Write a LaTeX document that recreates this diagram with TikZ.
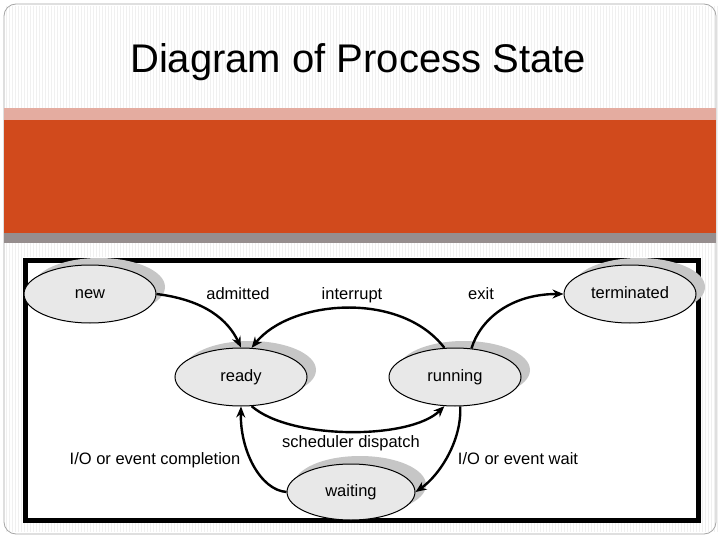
\documentclass[tikz,border=0pt]{standalone}
\usepackage{fontspec}
\setmainfont{Liberation Sans}
\usetikzlibrary{arrows.meta,shapes.geometric}
\definecolor{orng}{RGB}{209,74,28}
\definecolor{pnk}{RGB}{228,172,160}
\definecolor{gstrip}{RGB}{150,142,142}
\definecolor{nodefill}{RGB}{232,232,232}
\tikzset{
  st/.style={ellipse, draw=black, line width=1pt, fill=nodefill, minimum width=132pt, minimum height=58pt, font=\fontsize{16.5}{19}\selectfont, inner sep=0pt, text height=12pt, text depth=3pt},
  shad/.style={ellipse, fill=gray!45, minimum width=132pt, minimum height=58pt},
  arr/.style={-{Stealth[length=11pt,width=9pt]}, line width=2.4pt},
  lbl/.style={font=\fontsize{16.5}{19}\selectfont, text height=12pt, text depth=3pt}
}
\begin{document}
\begin{tikzpicture}[x=1pt,y=-1pt]
\useasboundingbox (0,0) rectangle (720,540);
\fill[white] (0,0) rectangle (720,540);
\foreach \i in {0,...,237} {\draw[gray!12,line width=0.6pt] (6+3*\i,6) -- (6+3*\i,532);}
\draw[gray!70,line width=0.8pt,rounded corners=12pt] (4,4) rectangle (716,534);
\fill[pnk] (4,108) rectangle (716,120);
\fill[orng] (4,120) rectangle (716,233);
\fill[gstrip] (4,233) rectangle (716,243);
\node[font=\fontsize{40}{46}\selectfont] (title) at (358,62) {Diagram of Process State};
\fill[white] (22,257) rectangle (700,522);
\draw[black,line width=5pt] (25,260) rectangle (698,520);
% shadows
\foreach \p in {(99,287),(250,370),(464,370),(639,287),(360,485)} {\node[shad] at \p {};}
\node[st] (new) at (90,294) {new};
\node[st] (ready) at (241,377) {ready};
\node[st] (running) at (455,377) {running};
\node[st] (term) at (630,294) {terminated};
\node[st, minimum width=128pt, minimum height=56pt] (wait) at (351,492) {waiting};
\draw[arr] (new.east) .. controls (205,300) and (228,320) .. (ready.north);
\draw[arr] (running.110) .. controls (400,290) and (290,300) .. (ready.70);
\draw[arr] (running.60) .. controls (480,320) and (510,294) .. (term.west);
\draw[arr] (ready.-70) .. controls (290,440) and (410,440) .. (running.-110);
\draw[arr] (running.-80) .. controls (462,440) and (440,475) .. (wait.east);
\draw[arr] (wait.west) .. controls (260,490) and (240,450) .. (ready.south);
\node[lbl] (l1) at (238,295) {admitted};
\node[lbl] (l2) at (352,295) {interrupt};
\node[lbl] (l3) at (481,295) {exit};
\node[lbl] (l4) at (351,443) {scheduler dispatch};
\node[lbl] (l5) at (155,460) {I/O or event completion};
\node[lbl] (l6) at (518,460) {I/O or event wait};
\end{tikzpicture}
\end{document}
